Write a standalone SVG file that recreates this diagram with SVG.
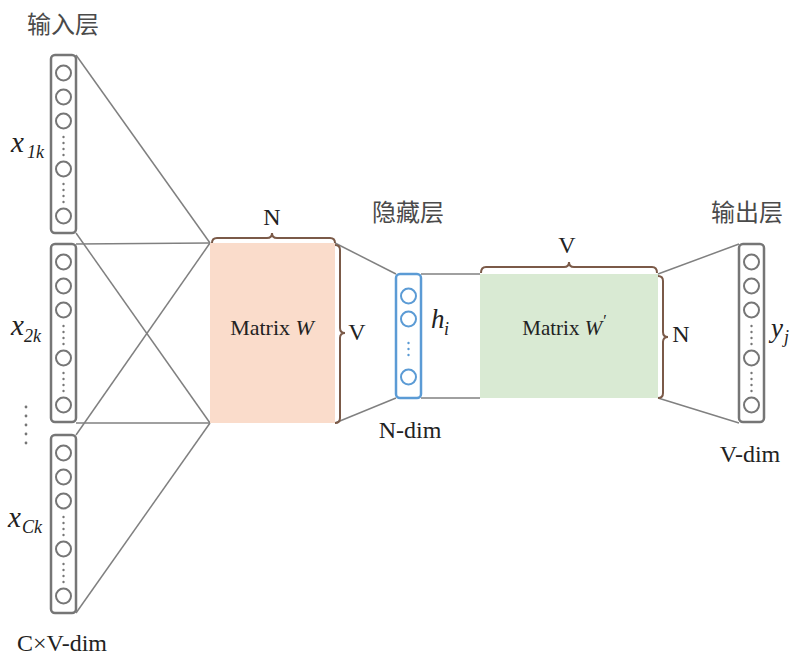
<svg xmlns="http://www.w3.org/2000/svg" xmlns:xlink="http://www.w3.org/1999/xlink" width="791" height="655" viewBox="0 0 791 655">
  <style>
    .bg { fill: #ffffff; }
    .col { fill: none; stroke: #767676; stroke-width: 2.5; }
    .unit { fill: none; stroke: #767676; stroke-width: 2; }
    .dot { fill: #767676; }
    .hid .col, .hid .unit { stroke: #5b9bd5; }
    .hid .dot { fill: #5b9bd5; }
    .link { stroke: #808080; stroke-width: 1.5; fill: none; }
    .brace { stroke: #7b5a48; stroke-width: 2; fill: none; }
    .lbl { font-family: "Liberation Serif", "Times New Roman", serif; fill: #222; }
    .dim { font-size: 24px; }
    .cjk { font-family: "Noto Sans CJK SC", "Noto Sans", sans-serif; fill: #4a4a4a; font-size: 24px; }
    .it { font-style: italic; }
    .mid { text-anchor: middle; }
  </style>
  <defs>
    <!-- one-hot column: 25 x 178 box with five units and two ellipses -->
    <g id="column">
      <rect class="col" x="0" y="0" width="25" height="178" rx="4"/>
      <circle class="unit" cx="12.5" cy="18" r="7.5"/>
      <circle class="unit" cx="12.5" cy="42" r="7.5"/>
      <circle class="unit" cx="12.5" cy="66" r="7.5"/>
      <circle class="dot" cx="12.5" cy="82" r="1.2"/>
      <circle class="dot" cx="12.5" cy="88" r="1.2"/>
      <circle class="dot" cx="12.5" cy="94" r="1.2"/>
      <circle class="dot" cx="12.5" cy="100" r="1.2"/>
      <circle class="unit" cx="12.5" cy="114" r="7.5"/>
      <circle class="dot" cx="12.5" cy="129" r="1.2"/>
      <circle class="dot" cx="12.5" cy="135" r="1.2"/>
      <circle class="dot" cx="12.5" cy="141" r="1.2"/>
      <circle class="dot" cx="12.5" cy="147" r="1.2"/>
      <circle class="unit" cx="12.5" cy="161" r="7.5"/>
    </g>
  </defs>

  <rect class="bg" x="0" y="0" width="791" height="655"/>

  <!-- connectors -->
  <g id="connectors">
    <line class="link" x1="76" y1="55" x2="210" y2="243"/>
    <line class="link" x1="76" y1="233" x2="210" y2="423"/>
    <line class="link" x1="76" y1="244" x2="210" y2="243"/>
    <line class="link" x1="76" y1="423" x2="210" y2="423"/>
    <line class="link" x1="76" y1="435" x2="210" y2="243"/>
    <line class="link" x1="76" y1="613" x2="210" y2="423"/>
    <line class="link" x1="335" y1="243" x2="396" y2="274"/>
    <line class="link" x1="335" y1="423" x2="396" y2="398"/>
    <line class="link" x1="421" y1="274" x2="480" y2="274"/>
    <line class="link" x1="421" y1="398" x2="480" y2="398"/>
    <line class="link" x1="658" y1="274" x2="739" y2="244"/>
    <line class="link" x1="658" y1="398" x2="739" y2="423"/>
  </g>

  <!-- input layer -->
  <g id="input-layer">
    <text class="cjk mid" x="63" y="33">输入层</text>
    <g id="input-1">
      <use xlink:href="#column" transform="translate(51,55)"/>
      <text class="lbl it" x="11" y="152" font-size="29">x</text>
      <text class="lbl it" x="27" y="158" font-size="18">1k</text>
    </g>
    <g id="input-2">
      <use xlink:href="#column" transform="translate(51,244)"/>
      <text class="lbl it" x="11" y="335" font-size="29">x</text>
      <text class="lbl it" x="24" y="342" font-size="18">2k</text>
    </g>
    <g id="input-ellipsis">
      <circle class="dot" cx="26" cy="407" r="1.4"/>
      <circle class="dot" cx="26" cy="416" r="1.4"/>
      <circle class="dot" cx="26" cy="425" r="1.4"/>
      <circle class="dot" cx="26" cy="434" r="1.4"/>
      <circle class="dot" cx="26" cy="443" r="1.4"/>
    </g>
    <g id="input-C">
      <use xlink:href="#column" transform="translate(51,435)"/>
      <text class="lbl it" x="8" y="527" font-size="29">x</text>
      <text class="lbl it" x="22" y="533" font-size="18">Ck</text>
    </g>
    <text class="lbl dim mid" x="62" y="651">C×V-dim</text>
  </g>

  <!-- input-to-hidden weights -->
  <g id="matrix-W">
    <rect x="210" y="243" width="125" height="180" fill="#fadccb"/>
    <text class="lbl mid" x="272" y="335" font-size="22">Matrix <tspan class="it">W</tspan></text>
    <path class="brace" d="M212,243 Q212,238 217,238 L267,238 Q272,238 272,233 Q272,238 277,238 L330,238 Q335,238 335,243"/>
    <text class="lbl dim mid" x="272" y="225">N</text>
    <path class="brace" d="M335,245 Q340,245 340,250 L340,328 Q340,333 345,333 Q340,333 340,338 L340,418 Q340,423 335,423"/>
    <text class="lbl dim mid" x="357" y="340">V</text>
  </g>

  <!-- hidden layer -->
  <g id="hidden-layer" class="hid">
    <text class="cjk mid" x="408" y="221">隐藏层</text>
    <rect class="col" x="396" y="274" width="25" height="124" rx="4"/>
    <circle class="unit" cx="408.5" cy="296" r="7.5"/>
    <circle class="unit" cx="408.5" cy="319" r="7.5"/>
    <circle class="dot" cx="408.5" cy="343" r="1.2"/>
    <circle class="dot" cx="408.5" cy="349" r="1.2"/>
    <circle class="dot" cx="408.5" cy="355" r="1.2"/>
    <circle class="unit" cx="408.5" cy="377" r="7.5"/>
    <text class="lbl it" x="431" y="328" font-size="27">h</text>
    <text class="lbl it" x="444" y="335" font-size="18">i</text>
    <text class="lbl dim mid" x="410" y="438">N-dim</text>
  </g>

  <!-- hidden-to-output weights -->
  <g id="matrix-W-prime">
    <rect x="480" y="274" width="178" height="124" fill="#d9ead3"/>
    <text class="lbl mid" x="564" y="335" font-size="21">Matrix <tspan class="it">W</tspan><tspan class="it" font-size="16" dy="-9">′</tspan></text>
    <path class="brace" d="M481,273 Q481,267 486,267 L564,267 Q569,267 569,262 Q569,267 574,267 L652,267 Q657,267 657,273"/>
    <text class="lbl dim mid" x="567" y="253">V</text>
    <path class="brace" d="M658,276 Q663,276 663,281 L663,332 Q663,337 668,337 Q663,337 663,342 L663,393 Q663,398 658,398"/>
    <text class="lbl dim mid" x="681" y="342">N</text>
  </g>

  <!-- output layer -->
  <g id="output-layer">
    <text class="cjk mid" x="747" y="221">输出层</text>
    <use xlink:href="#column" transform="translate(739,244)"/>
    <text class="lbl it" x="771" y="337" font-size="27">y</text>
    <text class="lbl it" x="784" y="343" font-size="18">j</text>
    <text class="lbl dim mid" x="750" y="462">V-dim</text>
  </g>
</svg>
